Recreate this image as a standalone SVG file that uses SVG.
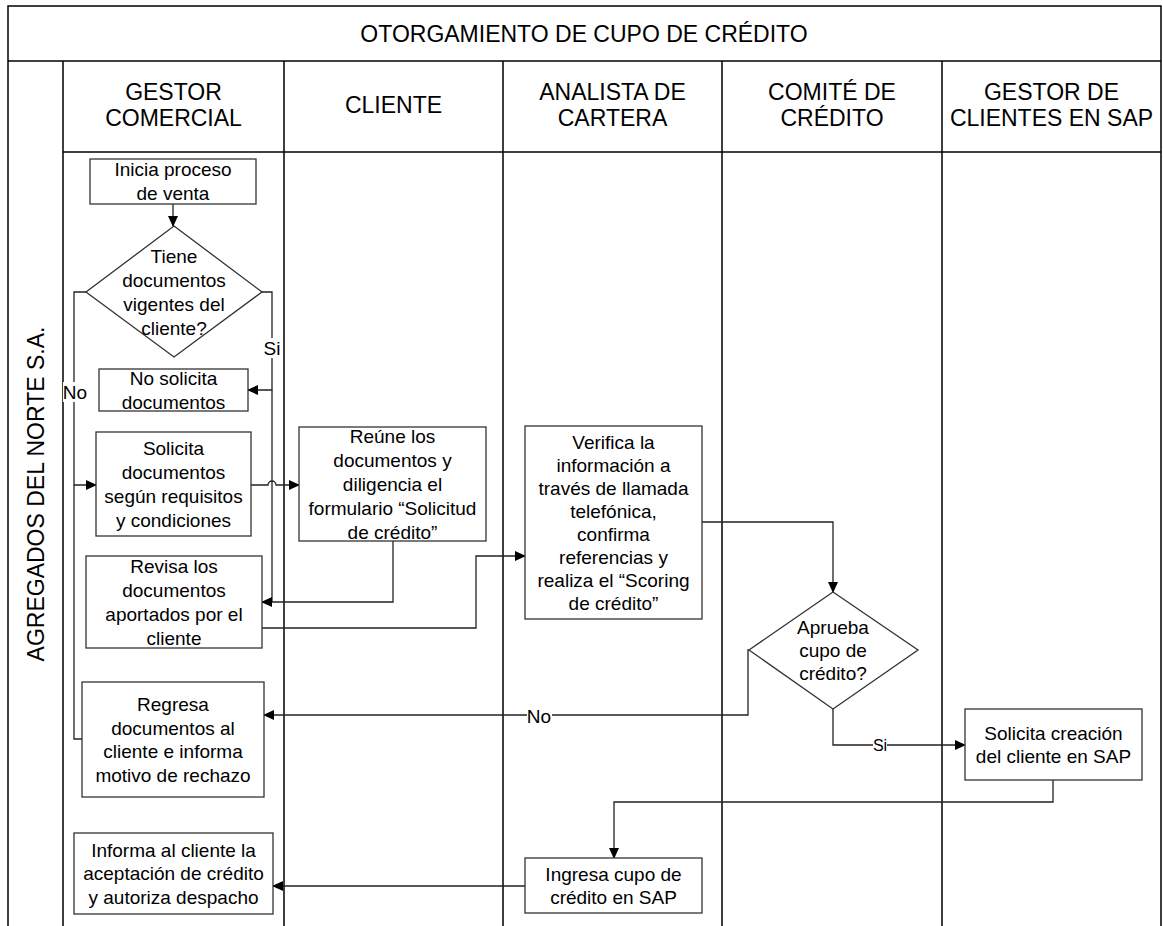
<svg xmlns="http://www.w3.org/2000/svg" width="1163" height="926" viewBox="0 0 1163 926">
<defs>
<marker id="arr" markerWidth="11" markerHeight="10" refX="10" refY="5" orient="auto" markerUnits="userSpaceOnUse">
<path d="M0,0 L11,5 L0,10 Z" fill="#000"/>
</marker>
<style>
.lane{stroke:#000;stroke-width:1.5;fill:none}
.box{fill:#fff;stroke:#333;stroke-width:1.3}
.t{font-family:"Liberation Sans",Arial,sans-serif;font-size:19px;fill:#000;text-anchor:middle}
.h{font-family:"Liberation Sans",Arial,sans-serif;font-size:23px;fill:#000;text-anchor:middle}
.c{fill:none;stroke:#222;stroke-width:1.3}
.ca{fill:none;stroke:#222;stroke-width:1.3;marker-end:url(#arr)}
.lbl{fill:#fff}
</style>
</defs>
<rect width="1163" height="926" fill="#fff"/>
<g id="frame">
<path class="lane" d="M8,926 V6 H1161 V926"/>
<path class="lane" d="M8,61 H1161"/>
<path class="lane" d="M63,61 V926 M284,61 V926 M503,61 V926 M722,61 V926 M942,61 V926"/>
<path class="lane" d="M63,152 H1161"/>
<text class="h" x="584" y="42">OTORGAMIENTO DE CUPO DE CRÉDITO</text>
<text class="h" transform="translate(44,494) rotate(-90)">AGREGADOS DEL NORTE S.A.</text>
<text class="h" x="173.5" y="100">GESTOR</text>
<text class="h" x="173.5" y="126">COMERCIAL</text>
<text class="h" x="393.5" y="113">CLIENTE</text>
<text class="h" x="612.5" y="100">ANALISTA DE</text>
<text class="h" x="612.5" y="126">CARTERA</text>
<text class="h" x="832" y="100">COMITÉ DE</text>
<text class="h" x="832" y="126">CRÉDITO</text>
<text class="h" x="1051.5" y="100">GESTOR DE</text>
<text class="h" x="1051.5" y="126">CLIENTES EN SAP</text>
</g>
<g id="connectors">
<path class="ca" d="M173,204 V226"/>
<path class="ca" d="M86,292 H74 V485 H96"/>
<path class="c" d="M82,739 H74 V485"/>
<path class="ca" d="M262,292 H272 V390 H248"/>
<path class="c" d="M272,390 V602"/>
<path class="ca" d="M251,485 H268 A4,4 0 0 1 276,485 H299"/>
<path class="ca" d="M393,541 V602 H262"/>
<path class="ca" d="M262,628 H476 V556 H525"/>
<path class="ca" d="M702,522 H833 V592"/>
<path class="ca" d="M749,650 H748 V715 H264"/>
<path class="ca" d="M833,709 V745 H965"/>
<path class="ca" d="M1053,780 V802 H614 V858"/>
<path class="ca" d="M525,886 H273"/>
<rect class="lbl" x="63" y="382" width="24" height="20"/>
<text class="t" x="75" y="399">No</text>
<rect class="lbl" x="264" y="338" width="16" height="20"/>
<text class="t" x="272" y="355">Si</text>
<rect class="lbl" x="527" y="706" width="25" height="20"/>
<text class="t" x="539" y="723">No</text>
<rect class="lbl" x="873" y="737" width="14" height="16"/>
<text class="t" style="font-size:16px" x="880" y="751">Si</text>
</g>
<g id="n1">
<rect class="box" x="90" y="159" width="166" height="45"/>
<text class="t" x="173" y="176">Inicia proceso</text>
<text class="t" x="173" y="200">de venta</text>
</g>
<g id="n2">
<polygon class="box" points="174,226 262,292 174,357 86,292"/>
<text class="t" x="174" y="263">Tiene</text>
<text class="t" x="174" y="287">documentos</text>
<text class="t" x="174" y="311">vigentes del</text>
<text class="t" x="174" y="335">cliente?</text>
</g>
<g id="n3">
<rect class="box" x="99" y="369" width="149" height="42"/>
<text class="t" x="173.5" y="385">No solicita</text>
<text class="t" x="173.5" y="409">documentos</text>
</g>
<g id="n4">
<rect class="box" x="96" y="432" width="155" height="104"/>
<text class="t" x="173.5" y="455">Solicita</text>
<text class="t" x="173.5" y="479">documentos</text>
<text class="t" x="173.5" y="503">según requisitos</text>
<text class="t" x="173.5" y="527">y condiciones</text>
</g>
<g id="n5">
<rect class="box" x="299" y="427" width="187" height="114"/>
<text class="t" x="392.5" y="443">Reúne los</text>
<text class="t" x="392.5" y="467">documentos y</text>
<text class="t" x="392.5" y="491">diligencia el</text>
<text class="t" x="392.5" y="515">formulario “Solicitud</text>
<text class="t" x="392.5" y="539">de crédito”</text>
</g>
<g id="n6">
<rect class="box" x="86" y="556" width="176" height="92"/>
<text class="t" x="174" y="573">Revisa los</text>
<text class="t" x="174" y="597">documentos</text>
<text class="t" x="174" y="621">aportados por el</text>
<text class="t" x="174" y="645">cliente</text>
</g>
<g id="n7">
<rect class="box" x="525" y="426" width="177" height="193"/>
<text class="t" x="613.5" y="449">Verifica la</text>
<text class="t" x="613.5" y="472">información a</text>
<text class="t" x="613.5" y="495">través de llamada</text>
<text class="t" x="613.5" y="518">telefónica,</text>
<text class="t" x="613.5" y="541">confirma</text>
<text class="t" x="613.5" y="564">referencias y</text>
<text class="t" x="613.5" y="587">realiza el “Scoring</text>
<text class="t" x="613.5" y="610">de crédito”</text>
</g>
<g id="n8">
<polygon class="box" points="833,592 918,650 833,709 749,650"/>
<text class="t" x="833" y="634">Aprueba</text>
<text class="t" x="833" y="657">cupo de</text>
<text class="t" x="833" y="680">crédito?</text>
</g>
<g id="n9">
<rect class="box" x="82" y="682" width="182" height="115"/>
<text class="t" x="173" y="711">Regresa</text>
<text class="t" x="173" y="735">documentos al</text>
<text class="t" x="173" y="758">cliente e informa</text>
<text class="t" x="173" y="782">motivo de rechazo</text>
</g>
<g id="n10">
<rect class="box" x="965" y="709" width="177" height="71"/>
<text class="t" x="1053.5" y="740">Solicita creación</text>
<text class="t" x="1053.5" y="763">del cliente en SAP</text>
</g>
<g id="n11">
<rect class="box" x="525" y="858" width="177" height="55"/>
<text class="t" x="613.5" y="881">Ingresa cupo de</text>
<text class="t" x="613.5" y="904">crédito en SAP</text>
</g>
<g id="n12">
<rect class="box" x="74" y="833" width="199" height="81"/>
<text class="t" x="173.5" y="857">Informa al cliente la</text>
<text class="t" x="173.5" y="880">aceptación de crédito</text>
<text class="t" x="173.5" y="904">y autoriza despacho</text>
</g>
</svg>
